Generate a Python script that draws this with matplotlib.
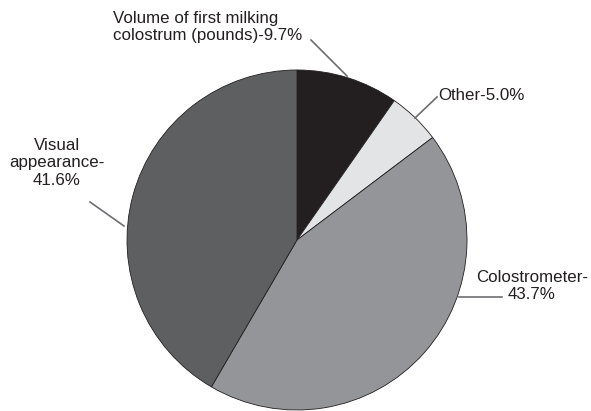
import matplotlib
matplotlib.use("Agg")
import matplotlib.pyplot as plt

labels = ["Volume of first milking\ncolostrum (pounds)-9.7%", "Other-5.0%",
          "Colostrometer-\n43.7%", "Visual\nappearance-\n41.6%"]
values = [9.7, 5.0, 43.7, 41.6]
colors = ["#231f20", "#e3e4e5", "#939598", "#5e5f61"]

plt.rcParams['font.family'] = ['Liberation Sans', 'DejaVu Sans']

fig = plt.figure(figsize=(5.91, 4.11), dpi=100)
ax = fig.add_axes([0, 0, 1, 1])

H = 411
ax.pie(values, colors=colors, startangle=90, counterclock=False,
       center=(297, H - 240), radius=170, frame=True,
       wedgeprops=dict(edgecolor="#231f20", linewidth=0.6))
ax.set_xlim(0, 591)
ax.set_ylim(0, 411)
ax.set_aspect('equal')
ax.axis('off')

txt_kw = dict(fontsize=12.2, color="#231f20", linespacing=1.2)
line_kw = dict(color="#6d6e71", linewidth=1.2)

ax.text(113, H - 27, labels[0], ha='left', va='center', multialignment='left', **txt_kw)
ax.plot([311, 347], [H - 40, H - 76], **line_kw)

ax.text(438, H - 95, labels[1], ha='left', va='center', **txt_kw)
ax.plot([437, 415], [H - 97, H - 118], **line_kw)

ax.text(532, H - 286, labels[2], ha='center', va='center', **txt_kw)
ax.plot([459, 502], [H - 297, H - 297], **line_kw)

ax.text(57, H - 163, labels[3], ha='center', va='center', **txt_kw)
ax.plot([90, 124], [H - 202, H - 226], **line_kw)

fig.savefig("out.png", dpi=100)
